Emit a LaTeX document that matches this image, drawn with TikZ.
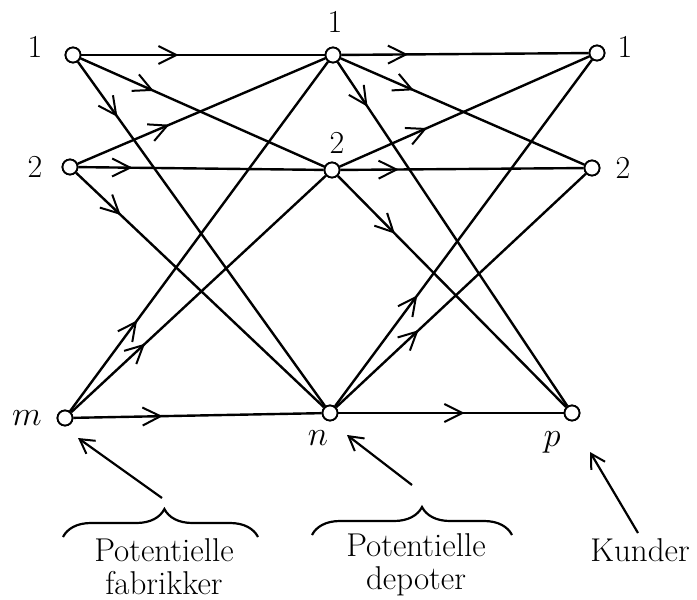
\documentclass[tikz,border=0pt]{standalone}
\usetikzlibrary{arrows.meta,decorations.markings,decorations.pathreplacing}
\begin{document}
\begin{tikzpicture}[x=0.5pt,y=-0.5pt,
  vertex/.style={circle,draw,line width=0.9pt,fill=white,inner sep=0pt,minimum size=7.5pt},
  lab/.style={font=\fontsize{16}{18}\selectfont,inner sep=0pt},
  edge/.style={line width=1.2pt},
  flow/.style={edge,postaction={decorate},decoration={markings,
     mark=at position #1 with {\arrow{Straight Barb[length=9pt,width=9pt,line width=1pt]}}}},
  pointer/.style={line width=1.1pt,-{Straight Barb[length=7pt,width=8pt,line width=1pt]}},
  bracket/.style={line width=1.1pt,decorate,decoration={brace,amplitude=14pt,aspect=#1}},
  txt/.style={font=\fontsize{16.5}{16.5}\selectfont,align=center,inner sep=0pt}
]
\useasboundingbox (0,0) rectangle (697,600);

\node[vertex] (L1) at (73,55) {};
\node[vertex] (L2) at (70,167) {};
\node[vertex] (Lm) at (65,418) {};
\node[vertex] (M1) at (333,55) {};
\node[vertex] (M2) at (332,170) {};
\node[vertex] (Mn) at (330,413) {};
\node[vertex] (R1) at (597,53) {};
\node[vertex] (R2) at (592,168) {};
\node[vertex] (Rp) at (572,413) {};

\draw[flow=0.40] (L1) -- (M1);
\draw[flow=0.30] (L1) -- (M2);
\draw[flow=0.16] (L1) -- (Mn);
\draw[flow=0.37] (L2) -- (M1);
\draw[flow=0.22] (L2) -- (M2);
\draw[flow=0.18] (L2) -- (Mn);
\draw[flow=0.26] (Lm) -- (M1);
\draw[flow=0.29] (Lm) -- (M2);
\draw[flow=0.36] (Lm) -- (Mn);

\draw[flow=0.27] (M1) -- (R1);
\draw[flow=0.30] (M1) -- (R2);
\draw[flow=0.13] (M1) -- (Rp);
\draw[flow=0.35] (M2) -- (R1);
\draw[flow=0.24] (M2) -- (R2);
\draw[flow=0.25] (M2) -- (Rp);
\draw[flow=0.32] (Mn) -- (R1);
\draw[flow=0.33] (Mn) -- (R2);
\draw[flow=0.56] (Mn) -- (Rp);

% redraw vertices on top
\foreach \n in {L1,L2,Lm,M1,M2,Mn,R1,R2,Rp}
  \draw[line width=0.9pt,fill=white] (\n.center) circle (3.75pt);

% labels
\node[lab] (tL1) at (35,47) {1};
\node[lab] (tL2) at (35,167) {2};
\node[lab] (tLm) at (27,418) {$m$};
\node[lab] (tM1) at (335,22) {1};
\node[lab] (tM2) at (337,143) {2};
\node[lab] (tMn) at (318,438) {$n$};
\node[lab] (tR1) at (625,47) {1};
\node[lab] (tR2) at (623,168) {2};
\node[lab] (tRp) at (552,442) {$p$};

% pointers
\coordinate (a1s) at (162,498); \coordinate (a1e) at (78,438);
\coordinate (a2s) at (412,485); \coordinate (a2e) at (347,435);
\coordinate (a3s) at (638,533); \coordinate (a3e) at (590,452);
\draw[pointer] (a1s) -- (a1e);
\draw[pointer] (a2s) -- (a2e);
\draw[pointer] (a3s) -- (a3e);

% braces
\coordinate (b1l) at (63,537); \coordinate (b1r) at (258,537);
\coordinate (b2l) at (312,535); \coordinate (b2r) at (512,535);
\draw[bracket=0.52] (b1l) -- (b1r);
\draw[bracket=0.55] (b2l) -- (b2r);

% captions
\node[txt] (c1) at (164,567) {Potentielle\\fabrikker};
\node[txt] (c2) at (416,565) {Potentielle\\depoter};
\node[txt] (c3) at (640,550) {Kunder};
\end{tikzpicture}
\end{document}
